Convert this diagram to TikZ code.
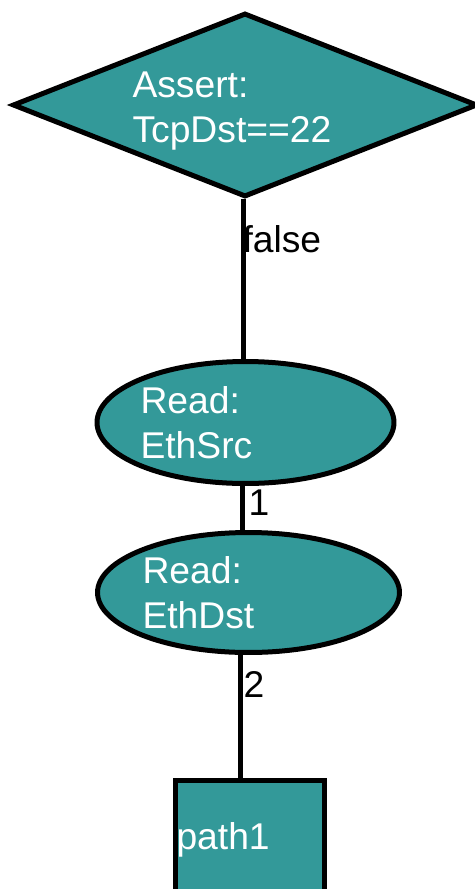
\documentclass[tikz,border=0pt]{standalone}
\usepackage{fontspec}
\setmainfont{Liberation Sans}
\usetikzlibrary{shapes.geometric}

\definecolor{nodeteal}{RGB}{51,153,153}

\begin{document}
\begin{tikzpicture}[x=0.02cm, y=-0.02cm, line width=0.1cm,
    box/.style={draw, fill=nodeteal, inner sep=0pt},
    txt/.style={anchor=base west, inner sep=0pt, text=white, align=left,
        font=\fontsize{21.2}{25.5}\selectfont},
    lbl/.style={anchor=base west, inner sep=0pt,
        font=\fontsize{21.2}{25.5}\selectfont}]
    \clip (0, 0) rectangle (475, 889);

    \node[box, diamond, minimum width=9.3cm, minimum height=3.68cm] (assert) at (245, 105) {};
    \node[box, ellipse, minimum width=5.94cm, minimum height=2.44cm] (src) at (245.5, 422.5) {};
    \node[box, ellipse, minimum width=6.04cm, minimum height=2.4cm] (dst) at (248.5, 592.5) {};
    \node[box, rectangle, minimum width=2.98cm, minimum height=4cm] (path) at (250, 880.5) {};

    % base anchor sits on the last line
    \node[txt] (assertTxt) at (130, 142) {Assert:\\TcpDst==22};
    \node[txt] (srcTxt) at (138, 458) {Read:\\EthSrc};
    \node[txt] (dstTxt) at (140, 628) {Read:\\EthDst};
    \node[txt] (pathTxt) at (174, 849) {path1};

    \draw ([xshift=-0.04cm]assert.south) -- ([xshift=-0.04cm]assert.south |- src.north);
    \draw ([xshift=-0.07cm]src.south) -- ([xshift=-0.07cm]src.south |- dst.north);
    \draw ([xshift=-0.17cm]dst.south) -- ([xshift=-0.17cm]dst.south |- path.north);

    \node[lbl] (falseLbl) at (240, 252) {false};
    \node[lbl] (oneLbl) at (246, 515) {1};
    \node[lbl] (twoLbl) at (241, 697) {2};
\end{tikzpicture}
\end{document}
